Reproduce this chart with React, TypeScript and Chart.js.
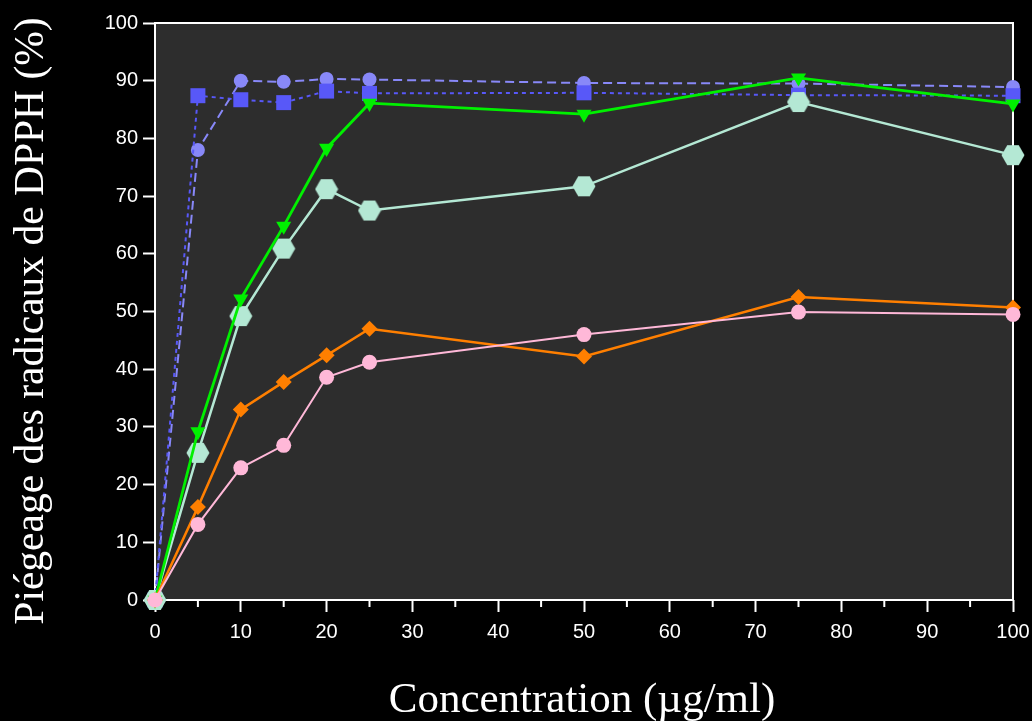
import React, { useEffect, useRef } from "react";
import { Chart, registerables } from "chart.js";

Chart.register(...registerables);

const concentrations = [0, 5, 10, 15, 20, 25, 50, 75, 100];
const blueCircles = [0, 78.0, 90.0, 89.8, 90.3, 90.2, 89.6, 89.5, 88.9];
const blueSquares = [0, 87.4, 86.7, 86.2, 88.2, 87.8, 87.9, 87.5, 87.4];
const greenTriangles = [0, 29.2, 52.2, 64.8, 78.3, 86.1, 84.2, 90.5, 86.0];
const mintHexagons = [0, 25.5, 49.2, 60.9, 71.2, 67.5, 71.7, 86.3, 77.1];
const orangeDiamonds = [0, 16.1, 33.0, 37.8, 42.4, 47.0, 42.2, 52.5, 50.7];
const pinkCircles = [0, 13.1, 22.9, 26.8, 38.6, 41.2, 46.0, 49.9, 49.5];

const xTitle = "Concentration (\u00b5g/ml)";
const yTitle = "Pi\u00e9geage des radicaux de DPPH (%)";

const toPoints = (ys: number[]) => concentrations.map((x, i) => ({ x, y: ys[i] }));

const tickFont = { family: "'Liberation Sans', Arial, sans-serif", size: 20 };
const titleFont = "'Liberation Serif', 'DejaVu Serif', serif";

export default function App() {
  const ref = useRef<HTMLCanvasElement | null>(null);

  useEffect(() => {
    const canvas = ref.current;
    if (!canvas) return;

    const hex = document.createElement("canvas");
    hex.width = 24;
    hex.height = 22;
    const hctx = hex.getContext("2d")!;
    hctx.fillStyle = "#b4e8d4";
    hctx.beginPath();
    for (let k = 0; k < 6; k++) {
      const a = (Math.PI / 3) * k;
      const px = 12 + 11.5 * Math.cos(a);
      const py = 11 + 11.5 * Math.sin(a);
      if (k === 0) hctx.moveTo(px, py);
      else hctx.lineTo(px, py);
    }
    hctx.closePath();
    hctx.fill();

    const framePlugin = {
      id: "frame",
      beforeDraw(chart: any) {
        const { ctx, chartArea: a } = chart;
        ctx.save();
        ctx.fillStyle = "#000";
        ctx.fillRect(0, 0, chart.width, chart.height);
        ctx.fillStyle = "#2d2d2d";
        ctx.fillRect(a.left, a.top, a.right - a.left, a.bottom - a.top);
        ctx.restore();
      },
      beforeDatasetsDraw(chart: any) {
        const { ctx, chartArea: a } = chart;
        const xs = chart.scales.x;
        ctx.save();
        ctx.strokeStyle = "#fff";
        ctx.lineWidth = 2;
        ctx.strokeRect(a.left, a.top, a.right - a.left, a.bottom - a.top);
        ctx.beginPath();
        xs.ticks.forEach((t: any) => {
          if (t.value % 10 !== 0) {
            const px = xs.getPixelForValue(t.value);
            ctx.moveTo(px, a.bottom);
            ctx.lineTo(px, a.bottom + 7);
          }
        });
        ctx.stroke();
        // axis titles
        ctx.fillStyle = "#fff";
        ctx.textBaseline = "alphabetic";
        ctx.textAlign = "center";
        ctx.font = `43px ${titleFont}`;
        ctx.fillText(xTitle, 582, 712);
        ctx.save();
        ctx.translate(43, 321);
        ctx.rotate(-Math.PI / 2);
        ctx.font = `41.5px ${titleFont}`;
        ctx.fillText(yTitle, 0, 0);
        ctx.restore();
        ctx.restore();
      },
    };

    const common = {
      tension: 0,
      pointBorderWidth: 0,
      clip: false as any,
    };

    const chart = new Chart(canvas, {
      type: "line",
      data: {
        datasets: [
          {
            ...common,
            label: "pink",
            data: toPoints(pinkCircles),
            borderColor: "#ffb8d8",
            backgroundColor: "#ffb8d8",
            borderWidth: 2,
            pointStyle: "circle",
            pointRadius: 7.5,
          },
          {
            ...common,
            label: "orange",
            data: toPoints(orangeDiamonds),
            borderColor: "#ff7f00",
            backgroundColor: "#ff7f00",
            borderWidth: 2.5,
            pointStyle: "rectRot",
            pointRadius: 8,
          },
          {
            ...common,
            label: "green",
            data: toPoints(greenTriangles),
            borderColor: "#00f000",
            backgroundColor: "#00f000",
            borderWidth: 2.8,
            pointStyle: "triangle",
            pointRotation: 180,
            pointRadius: 8.7,
          },
          {
            ...common,
            label: "mint",
            data: toPoints(mintHexagons),
            borderColor: "#b4e8d4",
            backgroundColor: "#b4e8d4",
            borderWidth: 2.5,
            pointStyle: hex as any,
            pointRadius: 11,
          },
          {
            ...common,
            label: "squares",
            data: toPoints(blueSquares),
            borderColor: "#5858f8",
            backgroundColor: "#5858f8",
            borderWidth: 2,
            borderDash: [4, 4],
            pointStyle: "rect",
            pointRadius: 10.6,
          },
          {
            ...common,
            label: "circles",
            data: toPoints(blueCircles),
            borderColor: "#8888f8",
            backgroundColor: "#8888f8",
            borderWidth: 2,
            borderDash: [9, 5],
            pointStyle: "circle",
            pointRadius: 7,
          },
        ],
      },
      options: {
        animation: false,
        responsive: false,
        maintainAspectRatio: false,
        events: [],
        layout: { padding: { top: 23, right: 19, left: 0, bottom: 0 } },
        plugins: {
          legend: { display: false },
          tooltip: { enabled: false },
        },
        scales: {
          x: {
            type: "linear",
            min: 0,
            max: 100,
            border: { display: false },
            grid: {
              display: true,
              drawOnChartArea: false,
              drawTicks: true,
              tickLength: 12,
              tickWidth: 2,
              tickColor: (c: any) => (c.tick && c.tick.value % 10 === 0 ? "#fff" : "rgba(0,0,0,0)"),
            },
            ticks: {
              stepSize: 5,
              autoSkip: false,
              maxRotation: 0,
              padding: 8,
              color: "#fff",
              font: tickFont,
              callback: (v: any) => (Number(v) % 10 === 0 ? String(v) : ""),
            },
            title: { display: false },
            afterFit: (s: any) => {
              s.height = 121;
              s.paddingLeft = 0;
              s.paddingRight = 0;
            },
          },
          y: {
            type: "linear",
            min: 0,
            max: 100,
            border: { display: false },
            grid: {
              display: true,
              drawOnChartArea: false,
              drawTicks: true,
              tickLength: 12,
              tickWidth: 2,
              tickColor: "#fff",
            },
            ticks: {
              stepSize: 10,
              padding: 5,
              color: "#fff",
              font: tickFont,
            },
            title: { display: false },
            afterFit: (s: any) => {
              s.width = 155;
              s.paddingTop = 0;
              s.paddingBottom = 0;
            },
          },
        },
      },
      plugins: [framePlugin],
    });

    return () => chart.destroy();
  }, []);

  return (
    <div style={{ position: "fixed", left: 0, top: 0, width: 1032, height: 721, background: "#000" }}>
      <canvas ref={ref} width={1032} height={721} style={{ display: "block", width: 1032, height: 721 }} />
    </div>
  );
}
